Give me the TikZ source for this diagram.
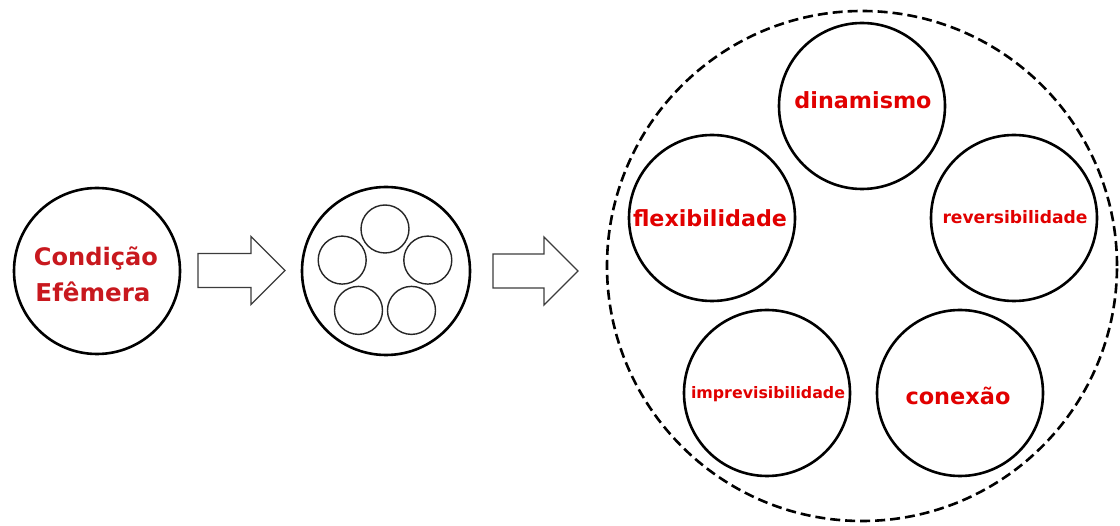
\documentclass[tikz,border=0pt]{standalone}
\usepackage{fontspec}
\setmainfont{DejaVu Sans}
\definecolor{darkred}{RGB}{200,24,30}
\definecolor{brightred}{RGB}{225,0,0}
\definecolor{arrowgray}{RGB}{60,60,60}
\begin{document}
\begin{tikzpicture}[x=1pt,y=-1pt,
  bigcirc/.style={circle,draw=black,line width=2.6pt,inner sep=0pt,minimum size=#1},
  smallcirc/.style={circle,draw=black!85,line width=1.4pt,inner sep=0pt,minimum size=48pt},
  petal/.style={circle,draw=black,line width=2.6pt,inner sep=0pt,minimum size=166pt},
  petaltext/.style={text=brightred,font=\bfseries,inner sep=0pt},
  blockarrow/.style={draw=arrowgray,line width=1.4pt,fill=white,line join=miter}
]
\useasboundingbox (0,0) rectangle (1120,526);
% left circle
\node[bigcirc=166pt] (cond) at (97,271) {};
\node[text=darkred,font=\bfseries,inner sep=0pt] (condA) at (96,258) {\resizebox{124pt}{!}{Condição}};
\node[text=darkred,font=\bfseries,inner sep=0pt] (condB) at (93,292) {\resizebox{115pt}{!}{Efêmera}};
% arrow 1
\coordinate (aA) at (198,270.5);
\draw[blockarrow] (aA) ++(0,-17) -- ++(53,0) -- ++(0,-17) -- ++(34,34)
  -- ++(-34,34) -- ++(0,-17) -- ++(-53,0) -- cycle;
% middle circle
\node[bigcirc=168pt] (mid) at (386,271) {};
\node[smallcirc] (s1) at (385,229) {};
\node[smallcirc] (s2) at (427.8,260.1) {};
\node[smallcirc] (s3) at (411.5,310.4) {};
\node[smallcirc] (s4) at (358.5,310.4) {};
\node[smallcirc] (s5) at (342.2,260.1) {};
% arrow 2
\coordinate (aB) at (493,271);
\draw[blockarrow] (aB) ++(0,-17) -- ++(51,0) -- ++(0,-17) -- ++(34,34)
  -- ++(-34,34) -- ++(0,-17) -- ++(-51,0) -- cycle;
% big dashed circle
\node[circle,draw=black,line width=2.6pt,dash pattern=on 10pt off 5pt,inner sep=0pt,minimum size=510pt] (big) at (862,266) {};
\node[petal] (din) at (862,106) {};
\node[petal] (flex) at (712,218) {};
\node[petal] (rev) at (1014,218) {};
\node[petal] (impr) at (767,393) {};
\node[petal] (conx) at (960,393) {};
\node[petaltext] (dinT) at (863,100) {\resizebox{137pt}{!}{dinamismo}};
\node[petaltext] (flexT) at (710,218) {\resizebox{154pt}{!}{flexibilidade}};
\node[petaltext] (revT) at (1015,217) {\resizebox{145pt}{!}{reversibilidade}};
\node[petaltext] (imprT) at (768,394) {\resizebox{154pt}{!}{imprevisibilidade}};
\node[petaltext] (conxT) at (958,396) {\resizebox{105pt}{!}{conexão}};
\end{tikzpicture}
\end{document}
